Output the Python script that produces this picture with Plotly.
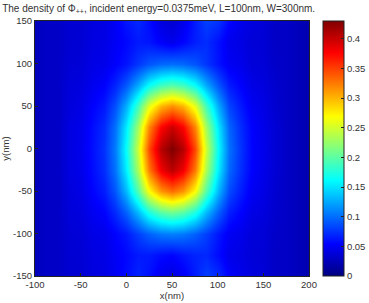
import plotly.graph_objects as go

x_nm = [-100, -87.5, -75, -62.5, -50, -37.5, -25, -12.5, 0, 12.5, 25, 37.5, 50,
        62.5, 75, 87.5, 100, 112.5, 125, 137.5, 150, 162.5, 175, 187.5, 200]
y_nm = [-150, -125, -100, -75, -50, -25, 0, 25, 50, 75, 100, 125, 150]

row_m150 = [0.025,0.03,0.03,0.035,0.035,0.04,0.042,0.048,0.058,0.068,0.06,0.045,0.04,0.05,0.065,0.08,0.072,0.052,0.045,0.04,0.037,0.03,0.03,0.025,0.02]
row_m125 = [0.025,0.03,0.03,0.035,0.036,0.041,0.043,0.05,0.056,0.064,0.064,0.058,0.055,0.062,0.068,0.07,0.058,0.045,0.042,0.037,0.036,0.03,0.03,0.025,0.02]
row_m100 = [0.025,0.03,0.03,0.036,0.037,0.043,0.045,0.054,0.063,0.080,0.094,0.104,0.107,0.104,0.094,0.080,0.063,0.049,0.045,0.038,0.037,0.031,0.03,0.025,0.02]
row_m75 = [0.025,0.03,0.03,0.038,0.040,0.048,0.054,0.071,0.095,0.133,0.174,0.200,0.210,0.200,0.174,0.133,0.095,0.066,0.054,0.043,0.040,0.033,0.03,0.025,0.02]
row_m50 = [0.025,0.03,0.03,0.039,0.043,0.054,0.065,0.090,0.132,0.197,0.269,0.314,0.331,0.314,0.269,0.197,0.132,0.085,0.065,0.049,0.043,0.034,0.03,0.025,0.02]
row_m25 = [0.025,0.03,0.03,0.041,0.045,0.058,0.072,0.102,0.155,0.234,0.325,0.382,0.405,0.382,0.325,0.234,0.155,0.097,0.072,0.053,0.045,0.036,0.03,0.025,0.02]
row_0 = [0.025,0.03,0.03,0.041,0.046,0.059,0.074,0.106,0.163,0.248,0.346,0.407,0.43,0.407,0.346,0.248,0.163,0.101,0.074,0.054,0.046,0.036,0.03,0.025,0.02]
row_25 = [0.025,0.03,0.03,0.041,0.045,0.058,0.071,0.101,0.153,0.230,0.320,0.376,0.398,0.376,0.320,0.230,0.153,0.096,0.071,0.053,0.045,0.036,0.03,0.025,0.02]
row_50 = [0.025,0.03,0.03,0.039,0.043,0.053,0.063,0.087,0.127,0.189,0.258,0.300,0.316,0.300,0.258,0.189,0.127,0.082,0.063,0.048,0.043,0.034,0.03,0.025,0.02]
row_75 = [0.025,0.03,0.03,0.038,0.040,0.047,0.053,0.068,0.090,0.125,0.163,0.187,0.196,0.187,0.163,0.125,0.090,0.064,0.053,0.043,0.040,0.033,0.03,0.025,0.02]
row_100 = [0.025,0.03,0.03,0.036,0.037,0.043,0.045,0.053,0.061,0.076,0.089,0.097,0.100,0.097,0.089,0.076,0.061,0.049,0.045,0.038,0.037,0.031,0.03,0.025,0.02]
row_125 = [0.025,0.03,0.03,0.035,0.036,0.041,0.043,0.05,0.056,0.064,0.062,0.052,0.045,0.055,0.066,0.072,0.06,0.046,0.042,0.037,0.036,0.03,0.03,0.025,0.02]
row_150 = [0.025,0.03,0.03,0.035,0.035,0.04,0.042,0.05,0.062,0.07,0.058,0.04,0.035,0.045,0.065,0.08,0.075,0.055,0.045,0.04,0.037,0.03,0.03,0.025,0.02]

density = [row_m150, row_m125, row_m100, row_m75, row_m50, row_m25, row_0,
           row_25, row_50, row_75, row_100, row_125, row_150]

x_ticks = [-100, -50, 0, 50, 100, 150, 200]
x_labels = ["-100", "-50", "0", "50", "100", "150", "200"]
y_ticks = [-150, -100, -50, 0, 50, 100, 150]
y_labels = ["-150", "-100", "-50", "0", "50", "100", "150"]
cb_ticks = [0, 0.05, 0.1, 0.15, 0.2, 0.25, 0.3, 0.35, 0.4]
cb_labels = ["0", "0.05", "0.1", "0.15", "0.2", "0.25", "0.3", "0.35", "0.4"]

jet = [[0.0, "rgb(0,0,128)"], [0.125, "rgb(0,0,255)"], [0.375, "rgb(0,255,255)"],
       [0.625, "rgb(255,255,0)"], [0.875, "rgb(255,0,0)"], [1.0, "rgb(128,0,0)"]]

FONT = "Liberation Sans, Arial, sans-serif"
TXT = "#333333"
FS = 9.5

fig = go.Figure(go.Heatmap(
    x=x_nm, y=y_nm, z=density, zsmooth="best", colorscale=jet,
    zmin=0, zmax=0.43,
    colorbar=dict(
        x=1.051, xanchor="left", xref="paper", thickness=21, len=1.0, lenmode="fraction",
        y=0.5, yanchor="middle", outlinewidth=1, outlinecolor="#222",
        tickvals=cb_ticks, ticktext=cb_labels, ticks="inside", ticklen=3,
        tickcolor="#222", tickfont=dict(family=FONT, size=FS, color=TXT), xpad=0, ypad=0,
    ),
))

fig.update_layout(
    width=369, height=303,
    margin=dict(l=35, r=60, t=21, b=27, autoexpand=False),
    paper_bgcolor="white", plot_bgcolor="white",
    font=dict(family=FONT, size=FS, color=TXT),
    title=dict(text="The density of Φ<sub>++</sub>, incident energy=0.0375meV, L=100nm, W=300nm.",
               x=0.006, xanchor="left", xref="container", y=0.985, yanchor="top",
               font=dict(family=FONT, size=10, color=TXT)),
    xaxis=dict(range=[-100, 200], tickvals=x_ticks, ticktext=x_labels, ticks="inside",
               ticklen=3, tickcolor="#222", automargin=False,
               showgrid=False, zeroline=False, showline=True, linecolor="#222", mirror=True,
               title=dict(text="x(nm)", standoff=1, font=dict(size=FS, color=TXT)),
               tickfont=dict(size=FS, color=TXT)),
    yaxis=dict(range=[-150, 150], tickvals=y_ticks, ticktext=y_labels, ticks="inside",
               ticklen=3, tickcolor="#222", automargin=False,
               showgrid=False, zeroline=False, showline=True, linecolor="#222", mirror=True,
               title=dict(text="y(nm)", standoff=2, font=dict(size=FS, color=TXT)),
               tickfont=dict(size=FS, color=TXT)),
)

fig.write_html("out.html")
